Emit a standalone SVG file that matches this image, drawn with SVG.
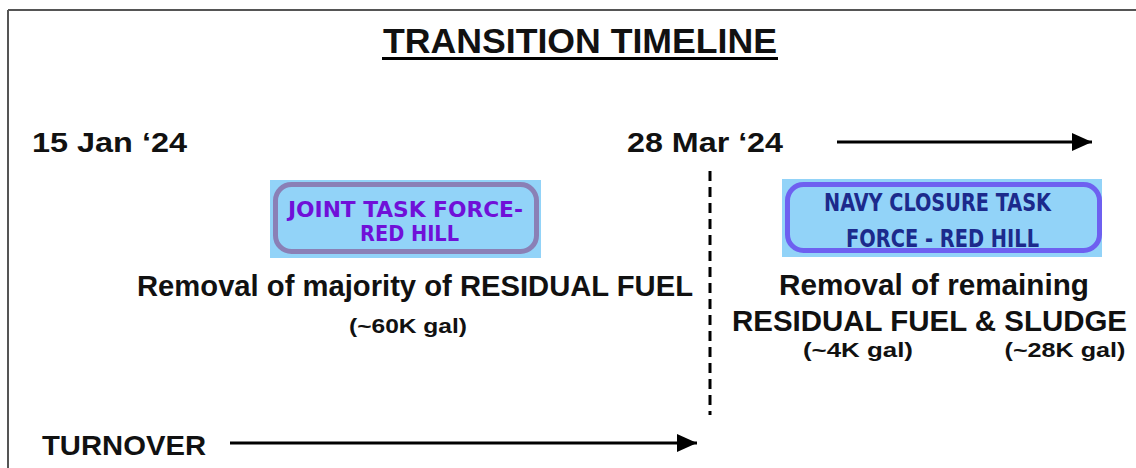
<svg xmlns="http://www.w3.org/2000/svg" width="1136" height="468" viewBox="0 0 1136 468">
<style>
.t{font-family:"Liberation Sans",Arial,sans-serif;font-weight:bold;fill:#111}
.bx{font-family:"DejaVu Sans Condensed","DejaVu Sans",sans-serif;font-weight:bold}
.bg{fill:#92d3f8}
</style>
<defs>
<marker id="ah" viewBox="0 0 20 18" refX="20" refY="9" markerWidth="20" markerHeight="18" markerUnits="userSpaceOnUse" orient="auto">
<polygon points="0,0 20,9 0,18" fill="#000"/>
</marker>
</defs>
<rect width="1136" height="468" fill="#fff"/>
<g id="frame" stroke="#555" stroke-width="2" fill="none">
<line x1="8" y1="10" x2="1136" y2="10"/>
<line x1="8" y1="10" x2="8" y2="468"/>
</g>
<g id="title">
<text class="t" x="580" y="53" font-size="35" text-anchor="middle" textLength="394" lengthAdjust="spacingAndGlyphs">TRANSITION TIMELINE</text>
<rect x="382" y="57" width="396" height="3" fill="#000"/>
</g>
<g id="date1"><text class="t" x="32" y="152" font-size="28" textLength="155" lengthAdjust="spacingAndGlyphs">15 Jan ‘24</text></g>
<g id="date2"><text class="t" x="627" y="152" font-size="28" textLength="156" lengthAdjust="spacingAndGlyphs">28 Mar ‘24</text></g>
<g id="jtf">
<rect class="bg" x="270" y="180" width="271" height="78"/>
<rect x="275.5" y="184.5" width="261" height="67" rx="16" fill="none" stroke="#8a80b6" stroke-width="5"/>
<text class="bx" x="405.5" y="217" font-size="22" fill="#7010d8" text-anchor="middle" textLength="235" lengthAdjust="spacingAndGlyphs">JOINT TASK FORCE-</text>
<text class="bx" x="409.5" y="241" font-size="22" fill="#7010d8" text-anchor="middle" textLength="99" lengthAdjust="spacingAndGlyphs">RED HILL</text>
</g>
<g id="nctf">
<rect class="bg" x="782" y="179" width="320" height="78"/>
<rect x="787.5" y="184.5" width="312" height="66" rx="16" fill="none" stroke="#6e60f0" stroke-width="5"/>
<text class="bx" x="937.5" y="211" font-size="24" fill="#1c2a8c" text-anchor="middle" textLength="227" lengthAdjust="spacingAndGlyphs">NAVY CLOSURE TASK</text>
<text class="bx" x="942.5" y="247" font-size="24" fill="#1c2a8c" text-anchor="middle" textLength="193" lengthAdjust="spacingAndGlyphs">FORCE - RED HILL</text>
</g>
<g id="left-desc">
<text class="t" x="137" y="296" font-size="29" textLength="556" lengthAdjust="spacingAndGlyphs">Removal of majority of RESIDUAL  FUEL</text>
<text class="t" x="408" y="333" font-size="21" text-anchor="middle" textLength="118" lengthAdjust="spacingAndGlyphs">(~60K gal)</text>
</g>
<g id="right-desc">
<text class="t" x="934" y="295" font-size="29" text-anchor="middle" textLength="310" lengthAdjust="spacingAndGlyphs">Removal of remaining</text>
<text class="t" x="929.5" y="331" font-size="29" text-anchor="middle" textLength="395" lengthAdjust="spacingAndGlyphs">RESIDUAL FUEL &amp; SLUDGE</text>
<text class="t" x="858" y="357" font-size="21" text-anchor="middle" textLength="110" lengthAdjust="spacingAndGlyphs">(~4K gal)</text>
<text class="t" x="1065" y="357" font-size="21" text-anchor="middle" textLength="121" lengthAdjust="spacingAndGlyphs">(~28K gal)</text>
</g>
<g id="turnover"><text class="t" x="42" y="455" font-size="28" textLength="164" lengthAdjust="spacingAndGlyphs">TURNOVER</text></g>
<g id="connectors" stroke="#000" fill="none">
<line x1="837" y1="142" x2="1092" y2="142" stroke-width="3" marker-end="url(#ah)"/>
<line x1="230" y1="443" x2="697" y2="443" stroke-width="3" marker-end="url(#ah)"/>
<line x1="710" y1="171" x2="710" y2="415" stroke-width="3" stroke-dasharray="10 6"/>
</g>
</svg>
